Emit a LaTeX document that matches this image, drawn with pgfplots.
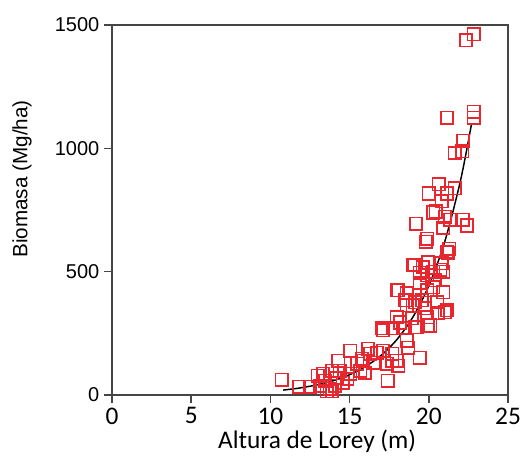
\documentclass[border=0pt]{standalone}
\usepackage{pgfplots}
\pgfplotsset{compat=1.18}
\usepackage{fontspec}
\setmainfont{Liberation Sans}
\newfontfamily\carlito{Carlito}
\definecolor{mred}{RGB}{232,38,48}
\definecolor{axgray}{RGB}{70,70,70}
\begin{document}
\begin{tikzpicture}
\useasboundingbox (-84pt,-45pt) rectangle (306pt,296.25pt);
\begin{axis}[
  scale only axis,
  width=297pt, height=277.5pt,
  xmin=0, xmax=25, ymin=0, ymax=1500,
  xtick={0,5,10,15,20,25},
  ytick={0,500,1000,1500},
  xtick pos=left, ytick pos=left,
  tick align=outside,
  major tick length=6pt,
  axis line style={axgray, line width=1.3pt},
  every tick/.style={axgray, line width=1.1pt},
  /pgf/number format/assume math mode=true,
  /pgf/number format/1000 sep={},
  xticklabel style={font=\carlito\fontsize{19}{19}\selectfont},
  yticklabel style={font=\fontsize{15}{15}\selectfont},
  xlabel={\carlito Altura de Lorey (m)},
  ylabel={Biomasa (Mg/ha)},
  xlabel style={font=\fontsize{19}{19}\selectfont, at={(rel axis cs:0.518,-0.145)}, anchor=base},
  ylabel style={font=\fontsize{15.5}{15.5}\selectfont, at={(rel axis cs:-0.227,0.584)}, anchor=center},
  clip=false,
]
\addplot[only marks, mark=square, mark size=4.7pt, mark options={mred, line width=1.2pt}] coordinates {
(22.85,1463) (22.35,1439) (22.85,1148) (22.85,1124) (21.15,1124)
(22.16,1030) (22.10,989) (21.65,981) (20.64,854) (20.01,817)
(21.65,838) (21.15,817) (20.83,785) (20.27,740) (20.45,744)
(21.02,723) (21.34,711) (22.16,711) (22.41,687) (19.19,695)
(20.90,678) (19.89,633) (21.28,593) (19.82,621) (21.15,580)
(19.07,527) (19.63,519) (20.83,535) (19.44,495) (20.27,499)
(20.90,499) (20.39,466) (18.06,425) (18.62,413) (19.89,425)
(20.90,417) (19.13,376) (19.57,384) (18.62,364) (19.76,351)
(21.15,343) (17.99,315) (18.94,311) (19.89,315) (17.05,270)
(17.74,270) (18.37,270) (19.13,274) (19.95,282) (18.62,221)
(18.69,192) (19.44,151) (15.03,180) (16.16,188) (16.73,172)
(17.11,180) (17.68,168) (15.78,147) (16.48,131) (17.36,127)
(18.06,119) (10.73,61) (11.81,33) (12.50,33) (13.13,37)
(13.76,25) (13.32,86) (13.89,98) (14.27,139) (14.20,69)
(14.58,49) (15.03,86) (15.66,98) (15.85,139) (16.29,168)
(15.47,127) (15.97,90) (13.45,57) (13.57,16) (13.89,16)
(17.42,57) (17.68,139) (17.99,139) (17.11,262) (18.18,294)
(18.50,384) (17.99,425) (19.00,364) (19.26,274) (20.08,282)
(20.58,331) (21.02,335) (20.52,376) (20.27,437) (19.44,454)
(19.00,527) (19.95,539) (20.71,507) (19.89,486) (21.21,576)
(13.00,78) (14.08,37) (14.39,98) (14.84,65)
};
\addplot[black, line width=1.1pt, smooth] coordinates {
(10.8,20) (11.5,25.3) (12,30.0) (13,41.9) (14,58.7) (15,82.3)
(16,115.2) (17,161.3) (18,225.9) (19,316.3) (20,443) (21,620)
(22,869) (22.7,1100)
};
\end{axis}
\end{tikzpicture}
\end{document}
